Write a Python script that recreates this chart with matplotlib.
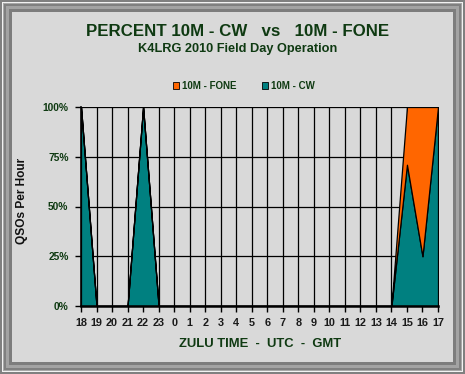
import matplotlib
matplotlib.use("Agg")
import matplotlib.pyplot as plt
from matplotlib.patches import Rectangle, Patch
import numpy as np

plt.rcParams['font.family'] = ['Liberation Sans', 'DejaVu Sans']

hours = ["18", "19", "20", "21", "22", "23", "0", "1", "2", "3", "4", "5", "6",
         "7", "8", "9", "10", "11", "12", "13", "14", "15", "16", "17"]
cw_pct = [100, 0, 0, 0, 100, 0, 0, 0, 0, 0, 0, 0, 0,
          0, 0, 0, 0, 0, 0, 0, 0, 71, 25, 100]
fone_pct = [0, 0, 0, 0, 0, 0, 0, 0, 0, 0, 0, 0, 0,
            0, 0, 0, 0, 0, 0, 0, 0, 29, 75, 0]
y_ticks = [0, 25, 50, 75, 100]
y_labels = ["0%", "25%", "50%", "75%", "100%"]

W, H = 465, 374
BG = "#d9d9d9"
TXT = "#0f3a12"
fig = plt.figure(figsize=(W / 100, H / 100), dpi=100, facecolor=BG)

# bevelled frame
frame = [(0, "#808080"), (2, "#f2f2f2"), (3, "#a8a8a8"), (4, "#808080"),
         (6, "#a3a3a3"), (9, "#7d7d7d"), (12, BG)]
for off, col in frame:
    fig.patches.append(Rectangle((off / W, off / H), 1 - 2 * off / W, 1 - 2 * off / H,
                                 transform=fig.transFigure, facecolor=col,
                                 edgecolor="none", zorder=-10))

ax = fig.add_axes([81 / W, 1 - 306 / H, (438 - 81) / W, (306 - 107) / H])
ax.set_facecolor(BG)
x = np.arange(len(hours))
ax.stackplot(x, cw_pct, fone_pct, colors=["#008080", "#ff6600"],
             edgecolor="black", linewidth=0.9, zorder=3)
ax.set_xlim(0, len(hours) - 1)
ax.set_ylim(0, 100)
ax.set_xticks(x)
ax.set_xticklabels(hours)
ax.set_yticks(y_ticks)
ax.set_yticklabels(y_labels)
for xi in x[1:]:
    ax.axvline(xi, color="black", linewidth=0.9, zorder=1)
for yv in y_ticks[1:]:
    ax.axhline(yv, color="black", linewidth=0.9, zorder=1)
for s in ["top", "right"]:
    ax.spines[s].set_visible(False)
ax.spines["left"].set_linewidth(1.2)
ax.spines["bottom"].set_linewidth(1.8)
ax.spines["left"].set_zorder(4)
ax.spines["bottom"].set_zorder(4)
ax.tick_params(axis="both", direction="out", length=4, width=1, color="black",
               labelsize=7.8, labelcolor="#1a1a1a", pad=5)
for lab in ax.get_xticklabels() + ax.get_yticklabels():
    lab.set_fontweight("bold")
ax.tick_params(axis="y", labelcolor=TXT, labelsize=7.4)

fig.text(238 / W, 1 - 31 / H, "PERCENT 10M - CW   vs   10M - FONE", ha="center", va="center",
         fontsize=12.2, fontweight="bold", color=TXT)
fig.text(238 / W, 1 - 49 / H, "K4LRG 2010 Field Day Operation", ha="center", va="center",
         fontsize=9.2, fontweight="bold", color=TXT)
fig.text(260 / W, 1 - 344 / H, "ZULU TIME  -  UTC  -  GMT", ha="center", va="center",
         fontsize=9.4, fontweight="bold", color=TXT)
fig.text(22 / W, 1 - 201 / H, "QSOs Per Hour", ha="center", va="center", rotation=90,
         fontsize=8.6, fontweight="bold", color="#111111")

handles = [Patch(facecolor="#ff6600", edgecolor="black", linewidth=0.6, label="10M - FONE"),
           Patch(facecolor="#008080", edgecolor="black", linewidth=0.6, label="10M - CW")]
leg = fig.legend(handles=handles, loc="center", bbox_to_anchor=(244 / W, 1 - 86 / H), ncol=2,
                 frameon=False, handlelength=0.6, handleheight=0.6, handletextpad=0.3,
                 columnspacing=2.6, prop={"size": 7.0, "weight": "bold"})
for t in leg.get_texts():
    t.set_color(TXT)

fig.savefig("out.png", dpi=100, facecolor=BG)
